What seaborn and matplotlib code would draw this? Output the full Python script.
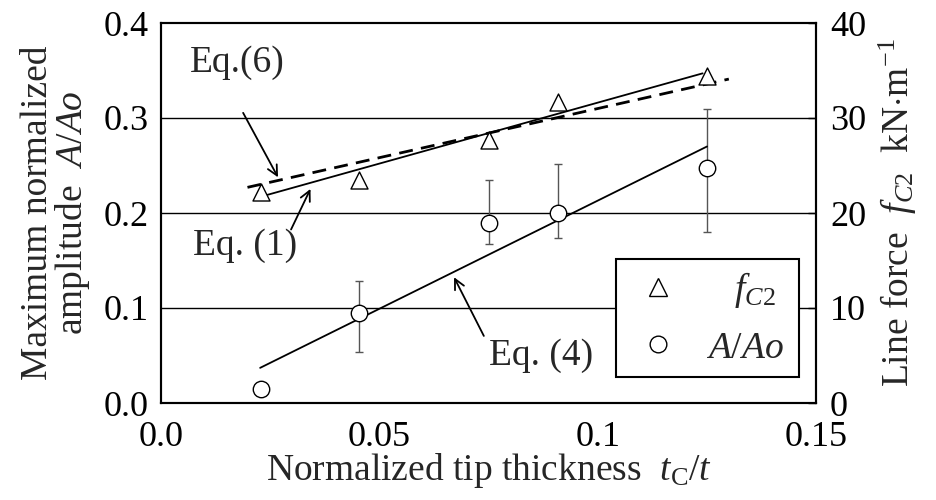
import numpy as np
import pandas as pd
import matplotlib
matplotlib.use("Agg")
import matplotlib.pyplot as plt
import seaborn as sns
from matplotlib.lines import Line2D

# ---- data ----
tip_thickness = [0.0228, 0.0453, 0.0750, 0.0908, 0.1250]
line_force = [22.2, 23.5, 27.7, 31.7, 34.4]          # kN/m (right axis)
amplitude = [0.015, 0.095, 0.189, 0.200, 0.247]     # A/Ao (left axis)
amp_upper = [np.nan, 0.128, 0.235, 0.252, 0.310]
amp_lower = [np.nan, 0.054, 0.167, 0.174, 0.180]

eq1_x = [0.0235, 0.1240]
eq1_y = [21.8, 34.7]          # kN/m
eq6_x = [0.0198, 0.1300]
eq6_y = [22.7, 34.1]          # kN/m
eq4_x = [0.0227, 0.1250]
eq4_y = [0.037, 0.270]        # A/Ao

x_ticks = [0.0, 0.05, 0.1, 0.15]
x_ticklabels = ["0.0", "0.05", "0.1", "0.15"]
yl_ticks = [0.0, 0.1, 0.2, 0.3, 0.4]
yl_ticklabels = ["0.0", "0.1", "0.2", "0.3", "0.4"]
yr_ticks = [0, 10, 20, 30, 40]
yr_ticklabels = ["0", "10", "20", "30", "40"]

sns.set_theme(style="white")
plt.rcParams["font.family"] = ["Liberation Serif", "DejaVu Serif"]
plt.rcParams["mathtext.fontset"] = "custom"
plt.rcParams["mathtext.rm"] = "Liberation Serif"
plt.rcParams["mathtext.it"] = "Liberation Serif:italic"
plt.rcParams["mathtext.bf"] = "Liberation Serif:bold"

FT = 26   # tick labels
FL = 27   # axis labels
FA = 27   # annotations / legend

fig = plt.figure(figsize=(9.36, 5.0), dpi=100)
ax = fig.add_axes([0.172, 0.194, 0.700, 0.760])
ax2 = ax.twinx()

df = pd.DataFrame({"x": tip_thickness, "f": line_force, "a": amplitude})

# grid lines (left axis)
for yv in yl_ticks[1:-1]:
    ax.axhline(yv, color="black", lw=1.0, zorder=1)

# error bars + circles (left axis)
err_lo = np.array(amplitude) - np.array(amp_lower)
err_hi = np.array(amp_upper) - np.array(amplitude)
ax.errorbar(tip_thickness, amplitude, yerr=[err_lo, err_hi], fmt="none",
            ecolor="#555555", elinewidth=1.0, capsize=3, capthick=1.0, zorder=2)
sns.lineplot(x=eq4_x, y=eq4_y, ax=ax, color="black", lw=1.3, zorder=3)
sns.scatterplot(data=df, x="x", y="a", ax=ax, marker="o", s=140,
                facecolor="white", edgecolor="black", linewidth=1.0, zorder=4)

# triangles + lines (right axis)
sns.lineplot(x=eq1_x, y=eq1_y, ax=ax2, color="black", lw=1.3, zorder=3)
sns.lineplot(x=eq6_x, y=eq6_y, ax=ax2, color="black", lw=2.0,
             linestyle=(0, (5, 3)), zorder=3)
sns.scatterplot(data=df, x="x", y="f", ax=ax2, marker="^", s=150,
                facecolor="white", edgecolor="black", linewidth=1.0, zorder=4)

ax.set_xlim(0, 0.15)
ax.set_ylim(0, 0.4)
ax2.set_ylim(0, 40)
ax.set_xticks(x_ticks)
ax.set_xticklabels(x_ticklabels, fontsize=FT)
ax.set_yticks(yl_ticks)
ax.set_yticklabels(yl_ticklabels, fontsize=FT)
ax2.set_yticks(yr_ticks)
ax2.set_yticklabels(yr_ticklabels, fontsize=FT)

ax.tick_params(axis="x", direction="in", length=6, width=1, pad=13, colors="black")
ax.tick_params(axis="y", direction="in", length=0, pad=9, colors="black")
ax2.tick_params(axis="y", direction="in", length=6, width=1, pad=10, colors="black")

for a in (ax, ax2):
    for sp in a.spines.values():
        sp.set_color("black")
        sp.set_linewidth(1.5)

ax.set_xlabel(r"Normalized tip thickness  $t_{\mathrm{C}}/t$", fontsize=FL, labelpad=-2)
ax.set_ylabel("Maximum normalized\n" + r"amplitude  $\mathit{A/Ao}$", fontsize=FL,
              labelpad=8, linespacing=0.95)
ax2.set_ylabel(r"Line force  $f_{C2}$  kN$\cdot$m$^{-1}$", fontsize=FL, labelpad=8)

# annotations (left-axis data coords)
arrow = dict(arrowstyle="->", color="black", lw=1.3, mutation_scale=18)
ax.annotate("", xy=(0.0271, 0.235), xytext=(0.0185, 0.308), arrowprops=arrow, zorder=5)
ax.text(0.0174, 0.358, "Eq.(6)", fontsize=FA, ha="center", va="center")
ax.annotate("", xy=(0.0345, 0.228), xytext=(0.0295, 0.180), arrowprops=arrow, zorder=5)
ax.text(0.0192, 0.166, "Eq. (1)", fontsize=FA, ha="center", va="center")
ax.annotate("", xy=(0.0668, 0.135), xytext=(0.0742, 0.068), arrowprops=arrow, zorder=5)
ax.text(0.0870, 0.050, "Eq. (4)", fontsize=FA, ha="center", va="center")

# legend
h1 = Line2D([], [], marker="^", ls="none", markersize=12.5, mfc="white", mec="black", mew=1.0)
h2 = Line2D([], [], marker="o", ls="none", markersize=12, mfc="white", mec="black", mew=1.0)
leg = ax2.legend([h1, h2], [r"   $f_{C2}$", r"$\mathit{A/Ao}$"],
                 loc="lower left", bbox_to_anchor=(0.695, 0.069, 0.279, 0.32),
                 mode="expand", fontsize=FA, frameon=True, fancybox=False,
                 edgecolor="black", framealpha=1, borderpad=0.3,
                 labelspacing=0.55, handlelength=1.6, handletextpad=0.5,
                 borderaxespad=0)
leg.get_frame().set_linewidth(1.5)

ax.set_zorder(1)
ax2.set_zorder(2)
ax2.patch.set_visible(False)

fig.savefig("out.png", dpi=100, facecolor="white")
